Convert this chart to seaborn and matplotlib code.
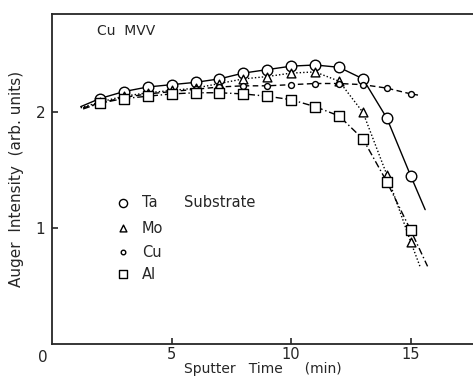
import numpy as np
import pandas as pd
import seaborn as sns
import matplotlib
matplotlib.use("Agg")
import matplotlib.pyplot as plt

# sputter time of the measured points (min)
time = [2, 3, 4, 5, 6, 7, 8, 9, 10, 11, 12, 13, 14, 15]

# Cu MVV auger intensity per substrate (arb. units)
ta = [2.12, 2.18, 2.22, 2.24, 2.26, 2.29, 2.34, 2.37, 2.40, 2.41, 2.39, 2.29, 1.95, 1.45]
mo = [2.09, 2.14, 2.17, 2.19, 2.21, 2.25, 2.29, 2.31, 2.34, 2.35, 2.27, 2.00, 1.46, 0.88]
cu = [2.08, 2.13, 2.16, 2.18, 2.20, 2.22, 2.23, 2.23, 2.24, 2.25, 2.25, 2.24, 2.21, 2.16]
al = [2.08, 2.12, 2.14, 2.16, 2.17, 2.17, 2.16, 2.14, 2.11, 2.05, 1.97, 1.77, 1.40, 0.98]

# where the drawn curves start and stop beyond the markers
start_x = [1.2, 1.2, 1.3, 1.3]
start_y = [2.05, 2.04, 2.04, 2.03]
end_x = [15.6, 15.4, 15.3, 15.7]
end_y = [1.16, 0.66, 2.15, 0.67]

names = ["Ta", "Mo", "Cu", "Al"]
series = [ta, mo, cu, al]
markers = ["o", "^", "o", "s"]
msizes = [58, 40, 18, 50]
styles = ["-", (0, (1, 1.5)), (0, (4, 2.5)), (0, (5, 2, 1, 2))]

sns.set_style("ticks")
plt.rcParams["font.family"] = ["DejaVu Sans"]

fig = plt.figure(figsize=(4.73, 3.8), dpi=100)
ax = fig.add_axes([0.11, 0.095, 0.89, 0.868])

for i, (name, vals) in enumerate(zip(names, series)):
    line = pd.DataFrame({
        "t": [start_x[i]] + time + [end_x[i]],
        "v": [start_y[i]] + vals + [end_y[i]],
    })
    sns.lineplot(data=line, x="t", y="v", ax=ax, color="black", lw=1.0,
                 linestyle=styles[i], sort=False, estimator=None)
    pts = pd.DataFrame({"t": time, "v": vals})
    sns.scatterplot(data=pts, x="t", y="v", ax=ax, marker=markers[i], s=msizes[i],
                    facecolor="white", edgecolor="black", linewidth=1.0, zorder=3)

# legend drawn as in the figure
leg_y = [1.22, 1.00, 0.79, 0.60]
for i, name in enumerate(names):
    ax.scatter([2.96], [leg_y[i]], marker=markers[i], s=msizes[i] * 0.6,
               facecolor="white", edgecolor="black", linewidth=1.0, zorder=3)
    ax.text(3.75, leg_y[i], name, fontsize=10.5, va="center", ha="left")
ax.text(5.5, leg_y[0], "Substrate", fontsize=10.5, va="center", ha="left")
ax.text(1.9, 2.7, "Cu  MVV", fontsize=10, va="center", ha="left")

ax.set_xlim(0, 17.6)
ax.set_ylim(0, 2.85)
ax.set_xticks([5, 10, 15])
ax.set_yticks([1, 2])
ax.tick_params(axis="x", direction="in", length=4, width=1.2, labelsize=10.5, pad=2)
ax.tick_params(axis="y", direction="in", length=4, width=1.2, labelsize=11, pad=5)
ax.set_xlabel("Sputter   Time     (min)", fontsize=10, labelpad=0)
ax.set_ylabel("Auger  Intensity  (arb. units)", fontsize=11, labelpad=8)
ax.text(-0.4, -0.12, "0", fontsize=11, ha="center", va="center")
ax.spines["right"].set_visible(False)
for s in ["left", "bottom", "top"]:
    ax.spines[s].set_linewidth(1.3)

fig.savefig("out.png", dpi=100)
